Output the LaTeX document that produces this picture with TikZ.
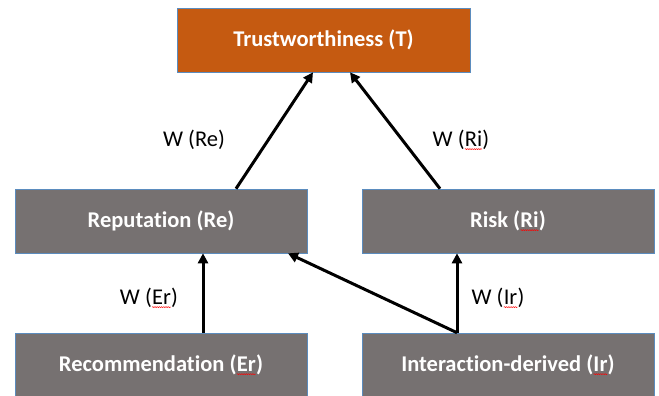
\documentclass[tikz,border=0pt]{standalone}
\usepackage{fontspec}
\setmainfont{Carlito}[Ligatures=NoCommon]
\usetikzlibrary{arrows.meta,decorations.pathmorphing}

\definecolor{trustorange}{RGB}{197,90,17}
\definecolor{boxgray}{RGB}{118,113,113}
\definecolor{boxedge}{RGB}{91,140,190}

% word with a spell-check underline
\newcommand\spellmark[1]{\tikz[baseline=(w.base)]{\node[draw=none, fill=none, minimum width=0pt,
    minimum height=0pt, inner sep=0pt, outer sep=0pt] (w) {#1};
  \draw[red, line width=0.5pt, decorate, decoration={snake, amplitude=0.5pt, segment length=2.2pt}]
    ([yshift=-2.5pt]w.base west) -- ([yshift=-2.5pt]w.base east);}}

\begin{document}
\begin{tikzpicture}[x=1pt,y=-1pt,
  box/.style={draw=boxedge, line width=0.6pt, fill=boxgray, text=white,
    minimum width=292pt, minimum height=64pt, inner sep=0pt,
    font=\fontsize{22.5}{26}\selectfont\bfseries},
  arr/.style={-{Triangle[length=10pt,width=10pt]}, line width=3pt},
  wlabel/.style={font=\fontsize{22.5}{26}\selectfont}]

\useasboundingbox (0,0) rectangle (659,396);

% boxes
\node[box, fill=trustorange, minimum width=293pt] (trust) at (323.5,40) {Trustworthiness (T)};
\node[box] (rep) at (161,221) {Reputation (Re)};
\node[box] (risk) at (508,221) {Risk (\spellmark{Ri})};
\node[box] (rec) at (161,365) {Recommendation (\spellmark{Er})};
\node[box] (inter) at (508,365) {Interaction-derived (\spellmark{Ir})};

% arrows
\draw[arr] ([xshift=75pt]rep.north) -- ([xshift=-10.5pt]trust.south);
\draw[arr] ([xshift=-68pt]risk.north) -- ([xshift=26.5pt]trust.south);
\draw[arr] ([xshift=42pt]rec.north) -- ([xshift=42pt]rep.south);
\draw[arr] ([xshift=-51pt]inter.north) -- ([xshift=-51pt]risk.south);
\draw[arr] ([xshift=-51pt]inter.north) -- ([xshift=127pt]rep.south);

% weights
\node[wlabel] (wre) at (194,140) {W (Re)};
\node[wlabel] (wri) at (461,140) {W (\spellmark{Ri})};
\node[wlabel] (wer) at (149,298) {W (\spellmark{Er})};
\node[wlabel] (wir) at (498,298) {W (\spellmark{Ir})};

\end{tikzpicture}
\end{document}
